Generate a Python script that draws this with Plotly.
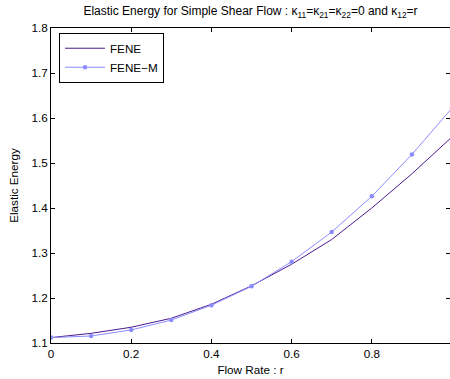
import plotly.graph_objects as go

# Data
x_fene = [0.0, 0.1, 0.2, 0.3, 0.4, 0.5, 0.6, 0.7, 0.8, 0.9, 1.0]
y_fene = [1.112, 1.1215, 1.135, 1.155, 1.186, 1.227, 1.275, 1.330, 1.400, 1.476, 1.558]

x_fenem = [0.0, 0.1, 0.2, 0.3, 0.4, 0.5, 0.6, 0.7, 0.8, 0.9, 1.0]
y_fenem = [1.112, 1.1156, 1.129, 1.151, 1.184, 1.226, 1.2807, 1.3467, 1.426, 1.519, 1.622]

x_ticks = [0, 0.2, 0.4, 0.6, 0.8]
x_tick_labels = ["0", "0.2", "0.4", "0.6", "0.8"]
y_ticks = [1.1, 1.2, 1.3, 1.4, 1.5, 1.6, 1.7, 1.8]
y_tick_labels = ["1.1", "1.2", "1.3", "1.4", "1.5", "1.6", "1.7", "1.8"]

FONT = "Liberation Sans, Arial, Helvetica, sans-serif"
FS = 11.7

fig = go.Figure()
fig.add_trace(go.Scatter(
    x=x_fene, y=y_fene, mode="lines", name="FENE",
    line=dict(color="#4b1a8c", width=1),
))
fig.add_trace(go.Scatter(
    x=x_fenem, y=y_fenem, mode="lines+markers", name="FENE\u2212M",
    line=dict(color="#8c8cff", width=1),
    marker=dict(color="#8c8cff", size=4.5, symbol="circle"),
))

fig.update_layout(
    width=450, height=379,
    margin=dict(l=51, r=0, t=28, b=36, pad=0),
    paper_bgcolor="white", plot_bgcolor="white",
    font=dict(family=FONT, size=FS, color="black"),
    title=dict(
        text="Elastic Energy for Simple Shear Flow : \u03ba<sub>11</sub>=\u03ba<sub>21</sub>=\u03ba<sub>22</sub>=0 and \u03ba<sub>12</sub>=r",
        x=(51 + 450) / 2 / 450, xanchor="center", y=1 - 11 / 379, yanchor="middle",
        font=dict(family=FONT, size=12, color="black"),
    ),
    showlegend=True,
    legend=dict(
        x=0.02, y=0.985, xanchor="left", yanchor="top",
        bgcolor="white", bordercolor="black", borderwidth=1,
        font=dict(family=FONT, size=FS, color="black"),
        tracegroupgap=0, itemwidth=40,
    ),
    xaxis=dict(
        range=[0, 0.995], tickvals=x_ticks, ticktext=x_tick_labels,
        showline=True, linecolor="black", linewidth=1, mirror="ticks",
        ticks="inside", ticklen=4, tickcolor="black", showgrid=False, zeroline=False,
        tickfont=dict(size=FS),
        title=dict(text="Flow Rate : r", standoff=6, font=dict(size=FS)),
    ),
    yaxis=dict(
        range=[1.1, 1.8], tickvals=y_ticks, ticktext=y_tick_labels,
        showline=True, linecolor="black", linewidth=1, mirror="ticks",
        ticks="inside", ticklen=4, tickcolor="black", showgrid=False, zeroline=False,
        tickfont=dict(size=FS),
        title=dict(text="Elastic Energy", standoff=10, font=dict(size=FS)),
    ),
)

fig.write_html("out.html", config={"displayModeBar": False},
               post_script="document.body.style.margin='0';")
